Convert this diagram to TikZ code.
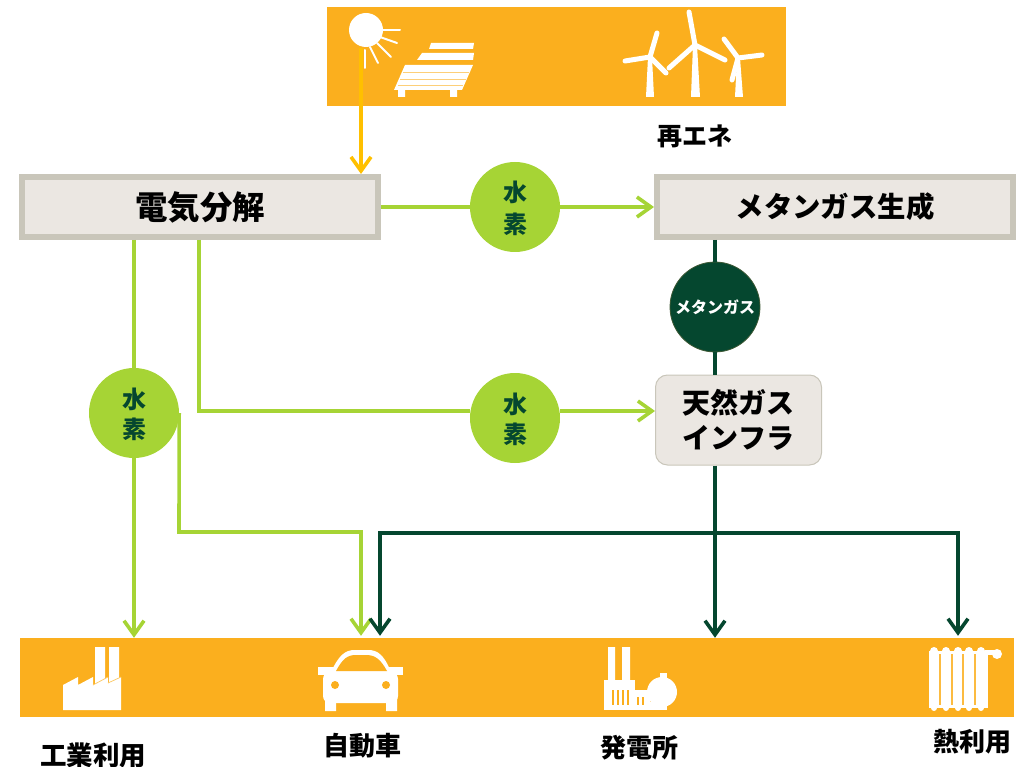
\documentclass[tikz,border=0pt]{standalone}
\usepackage{fontspec}
\setmainfont{Noto Sans CJK JP}
\usetikzlibrary{arrows.meta}
\definecolor{barorange}{HTML}{FBAF1E}
\definecolor{sunyellow}{HTML}{FFC000}
\definecolor{hydrogreen}{HTML}{A6D435}
\definecolor{gasgreen}{HTML}{05472F}
\definecolor{boxfill}{HTML}{EBE7E2}
\definecolor{boxline}{HTML}{C9C6BA}
\def\sz#1{\fontsize{#1}{#1}\selectfont\bfseries}
\def\blades#1#2#3#4{\draw[iconline,line width=5pt] (#1) -- (#2) (#1) -- (#3) (#1) -- (#4);}
\tikzset{
  hline/.style={draw=hydrogreen,line width=3.6pt},
  gline/.style={draw=gasgreen,line width=3.6pt},
  tip/.style={-{Straight Barb[length=14pt,width=20pt]}},
  bar/.style={fill=barorange,inner sep=0pt},
  procbox/.style={draw=boxline,line width=6pt,fill=boxfill,minimum width=356pt,minimum height=60pt,inner sep=0pt},
  hydro/.style={circle,fill=hydrogreen,text=gasgreen,minimum size=90pt,inner sep=0pt,align=center,font=\sz{24},text depth=0pt},
  label/.style={inner sep=0pt,text=black},
  icon/.style={fill=white,draw=none},
  iconline/.style={draw=white,line cap=round}
}
\begin{document}
\begin{tikzpicture}[x=1pt,y=-1pt]
\useasboundingbox (0,0) rectangle (1020,767);
% bars
\node[bar,minimum width=459pt,minimum height=99pt] (topbar) at (556.5,56.5) {};
\node[bar,minimum width=994pt,minimum height=79pt] (lowbar) at (517,677.5) {};
% sun and panels
\node[circle,icon,minimum size=34pt,inner sep=0pt] (sun) at (366,30) {};
\foreach \xa/\ya/\xb/\yb in {382/30/400/30,380/37/397/43,377/43/391/57,370/47/378/63,365/50/365/68}
  \draw[iconline,line width=2pt] (\xa,\ya) -- (\xb,\yb);
\fill[white] (431,43) -- (474,43) -- (473,49) -- (429,49) -- cycle;
\fill[white] (422,53) -- (474,53) -- (473,60) -- (417,60) -- cycle;
\fill[white] (405,65) -- (473,65) -- (462,90) -- (394,90) -- cycle;
\fill[white] (398,90) rectangle (405,97) (450,90) rectangle (457,97);
\draw[barorange!60!white,line width=.7pt] (403,72) -- (469,72) (400,79) -- (466,79) (398,85) -- (463,85);
% wind turbines
\fill[white] (646,97) -- (648,57) -- (652,57) -- (654,97) -- cycle;
\fill[white] (691,97) -- (693,45) -- (697,45) -- (700,97) -- cycle;
\fill[white] (735,97) -- (737,58) -- (740,58) -- (743,97) -- cycle;
\blades{650,57}{657,33}{625,61}{666,73}
\blades{695,45}{689,12}{725,60}{669,68}
\blades{738,58}{724,39}{762,55}{732,80}
% factory
\fill[white] (95,647) rectangle (105,686) (109,647) rectangle (119,685);
\fill[white] (63,710) -- (63,685) -- (78,677) -- (78,685) -- (93,677) -- (93,685) -- (108,677) -- (108,683) -- (121,677) -- (121,710) -- cycle;
\draw[barorange!70!white,line width=.7pt] (93,685) -- (108,677) (108,683) -- (121,677);
% car
\fill[white,rounded corners=7pt] (323,703) rectangle (398,672);
\fill[white] (318,667) rectangle (403,675);
\fill[white] (325,698) rectangle (336,711) (386,698) rectangle (397,711);
\fill[white] (331,672) .. controls (339,655) and (345,650) .. (355,650) -- (368,650) .. controls (378,650) and (384,655) .. (391,672) -- cycle;
\fill[barorange] (336,671) .. controls (343,658) and (348,655) .. (356,655) -- (366,655) .. controls (374,655) and (380,658) .. (387,671) -- cycle;
\fill[barorange] (335,685) circle (4) (386,685) circle (4);
% power plant
\fill[white] (608,647) rectangle (615,682) (622,647) rectangle (630,682);
\fill[white] (604,680) rectangle (635,710);
\fill[white] (635,690) rectangle (650,710);
\fill[white] (662,692) circle (15);
\fill[white] (660,673) rectangle (667,682);
\fill[white] (647,702) rectangle (667,710);
\foreach \x in {613,618,623,628}
  \draw[barorange,line width=1.2pt] (\x,690) -- (\x,705);
\foreach \x in {638,643}
  \draw[barorange,line width=1.2pt] (\x,697) -- (\x,705);
% radiator
\fill[white] (929,651) rectangle (988,708);
\foreach \x in {934,946,958,969,981} {
  \fill[white] (\x,651) circle (4);
  \fill[white] (\x,708) circle (3);
}
\fill[white] (985,650) rectangle (997,655);
\fill[white] (997,654) circle (5);
\foreach \x in {940,952,963,975}
  \draw[barorange!85!white,line width=2.6pt] (\x,654) -- (\x,705);
% process boxes
\node[procbox,font=\sz{32.4}] (elec) at (200,207) {電気分解};
\node[procbox,font=\sz{28.4}] (meth) at (835,207) {メタンガス生成};
\node[draw=boxline,line width=1pt,fill=boxfill,rounded corners=12pt,minimum width=166pt,minimum height=90pt,inner sep=0pt,align=center,font=\sz{28}] (infra) at (738.5,420) {天然ガス\\[7pt]インフラ};
% circles
\node[hydro] (hya) at (515,207) {水\\[8pt]素};
\node[hydro] (hyb) at (515,418) {水\\[6pt]素};
\node[hydro] (hyc) at (134,413) {水\\[6pt]素};
\node[circle,fill=gasgreen,draw=gasgreen!70!brown,line width=.8pt,text=white,minimum size=90pt,inner sep=0pt,font=\sz{16}] (gas) at (715,307) {メタンガス};
% texts
\node[label,font=\sz{25}] (renew) at (695,136) {再エネ};
\node[label,font=\sz{26.5}] (indus) at (93,755) {工業利用};
\node[label,font=\sz{26}] (cars) at (362,746) {自動車};
\node[label,font=\sz{26}] (power) at (639,748) {発電所};
\node[label,font=\sz{26}] (heat) at (972,742) {熱利用};
% connectors
\coordinate (sunfoot) at (361,48);
\coordinate (elecl) at (134,240);
\coordinate (elecm) at (199,240);
\coordinate (hybend) at (199,411);
\coordinate (carbend) at (179,532);
\coordinate (cartop) at (361,532);
\coordinate (gasout) at (715,240);
\coordinate (split) at (715,533);
\coordinate (splitl) at (380,533);
\coordinate (splitr) at (958,533);
\draw[draw=sunyellow,line width=3.6pt,tip] (sunfoot) -- (sunfoot |- elec.north);
\draw[hline] (elec.east) -- (hya.west);
\draw[hline,tip] (hya.east) -- (meth.west);
\draw[hline] (elecl) -- (hyc.north);
\draw[hline,tip] (hyc.south) -- (hyc.south |- lowbar.north);
\draw[hline] (elecm) -- (hybend) -- (hyb.west |- hybend);
\draw[hline,tip] (hyb.east |- hybend) -- (infra.west |- hybend);
\draw[hline,tip] (hyc.east) -- (carbend) -- (cartop) -- ([yshift=2pt]cartop |- lowbar.north);
\draw[gline] (gasout) -- (gas.north);
\draw[gline] (gas.south) -- (gas.south |- infra.north);
\draw[gline,tip] (gas.south |- infra.south) -- (gas.south |- lowbar.north);
\draw[gline,tip] (split) -- (splitl) -- ([yshift=2pt]splitl |- lowbar.north);
\draw[gline,tip] (split) -- (splitr) -- ([yshift=2pt]splitr |- lowbar.north);
\end{tikzpicture}
\end{document}
